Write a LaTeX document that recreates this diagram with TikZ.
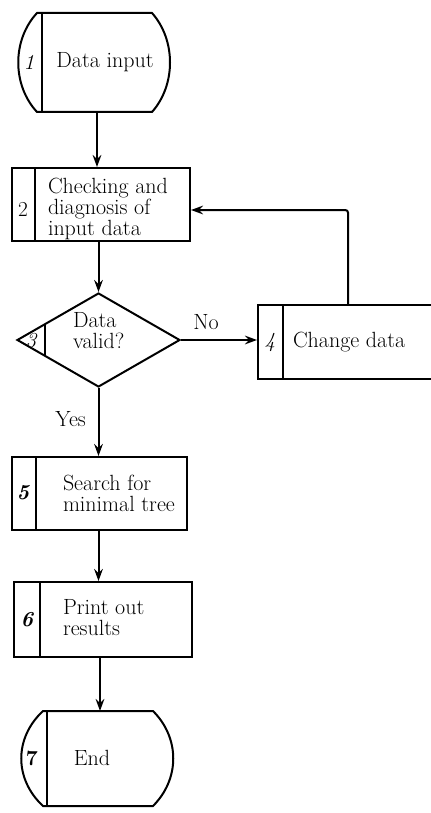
\documentclass[tikz,border=0pt]{standalone}
\usepackage{fontspec}
\usetikzlibrary{arrows.meta,shapes.geometric}

\tikzset{every picture/.style={line width=1.5pt}}
\tikzset{
  procbox/.style={draw, rectangle, inner sep=0pt},
  dcsn/.style={draw, diamond, inner sep=0pt},
  lbl/.style={inner sep=0.75pt, align=left, font=\fontsize{16.5}{15.75}\selectfont},
  num/.style={inner sep=0.75pt, font=\fontsize{16}{16}\selectfont},
  flow/.style={-{Stealth[length=9pt,width=6.5pt,inset=3pt]}},
}

\begin{document}
\begin{tikzpicture}[x=0.75pt,y=0.75pt,yscale=-1,xscale=1]
	\useasboundingbox (0,0) rectangle (431,813);
	\clip (0,0) rectangle (431,813);
	
	%Shape: Terminal 1
	\draw (37,13) -- (152,13) .. controls (176,40) and (176,85) .. (152,112) -- (37,112) .. controls (12,85) and (12,40) .. (37,13) -- cycle ;
	\draw (42,13) -- (42,112) ;
	\coordinate (inp-s) at (97,112) ;
	\node (inp) [lbl] at (105,62.5) {Data input};
	\node (n1) [num] at (29,62.5) {\itshape 1};
	
	%Shape: Process 2
	\node (chk) [procbox, minimum width=133.5pt, minimum height=54.75pt] at (101,204.5) {};
	\draw (35,168) -- (35,241) ;
	\node (chk-t) [lbl, anchor=west] at (46,209) {Checking and\\diagnosis of\\input data};
	\node (n2) [num] at (23,209) {2};
	
	%Shape: Decision 3
	\node (dia) [dcsn, minimum width=122.25pt, minimum height=70.5pt] at (98.5,340) {};
	\draw (45,323.8) -- (45,356.2) ;
	\node (dia-t) [lbl, anchor=west] at (71,331) {Data\\valid?};
	\node (n3) [num] at (31,341) {\itshape 3};
	
	%Shape: Process 4
	\node (chg) [procbox, minimum width=140.25pt, minimum height=55.5pt] at (351.5,342) {};
	\draw (283,305) -- (283,379) ;
	\node (chg-t) [lbl, anchor=west] at (291,342) {Change data};
	\node (n4) [num] at (270,342) {\itshape 4};
	
	%Shape: Process 5
	\node (srch) [procbox, minimum width=131.25pt, minimum height=54.75pt] at (99.5,493.5) {};
	\draw (36,457) -- (36,530) ;
	\node (srch-t) [lbl, anchor=west] at (61,493) {Search for\\minimal tree};
	\node (n5) [num] at (23,493) {\bfseries\itshape 5};
	
	%Shape: Process 6
	\node (prnt) [procbox, minimum width=133.5pt, minimum height=56.25pt] at (103,619.5) {};
	\draw (40,582) -- (40,657) ;
	\node (prnt-t) [lbl, anchor=west] at (61,618) {Print out\\results};
	\node (n6) [num] at (27,620) {\bfseries\itshape 6};
	
	%Shape: Terminal 7
	\draw (43,711) -- (153,711) .. controls (180,738) and (180,779) .. (153,806) -- (43,806) .. controls (14,779) and (14,738) .. (43,711) -- cycle ;
	\draw (47,711) -- (47,806) ;
	\coordinate (end-n) at (100,711) ;
	\node (end) [lbl] at (92,758) {End};
	\node (n7) [num] at (32,758) {\bfseries 7};
	
	%Connectors
	\draw [flow] (inp-s) -- (inp-s |- chk.north) ;
	\draw [flow] (chk.south -| dia.north) -- (dia.north) ;
	\draw [flow] (dia.east) -- (dia.east -| chg.west) node [lbl, pos=0.33, above=6pt] (no) {No} ;
	\draw [flow] (dia.south) -- (dia.south |- srch.north) node [lbl, pos=0.45, left=8pt] (yes) {Yes} ;
	\draw [flow] (srch.south -| dia.south) -- (dia.south |- prnt.north) ;
	\draw [flow] (end-n |- prnt.south) -- (end-n) ;
	\coordinate (ret) at (348,210) ;
	\draw [flow, rounded corners=2pt] (ret |- chg.north) -- (ret) -- (ret -| chk.east) ;
	
\end{tikzpicture}
\end{document}
